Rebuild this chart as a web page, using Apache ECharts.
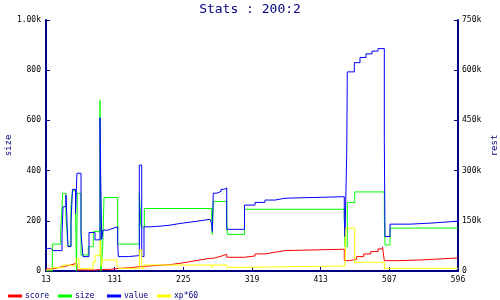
<!DOCTYPE html>
<html><head><meta charset="utf-8">
<script src="https://cdn.jsdelivr.net/npm/echarts@6/dist/echarts.min.js"></script>
<style>html,body{margin:0;padding:0;background:#fff}#c{width:500px;height:300px}</style>
</head><body><div id="c"></div>
<script>
var xLabels = ['13','131','225','319','413','507','596'];
var seriesNames = ['score','size','value','xp*60'];
// [x position along index axis (0..600), value]
var scoreData = [[0,6],[8.7,10],[17.5,14],[26.2,17],[35,21],[40.8,23],[45.1,3],[71.4,4],[78.6,5],[93.2,8],[107.8,10],[122.3,13],[136.9,15],[151.5,17],[166,19],[180.6,23],[195.1,28],[209.7,33],[224.3,38],[238.8,43],[241.7,38],[243.6,41],[249,45],[256.3,50],[263.2,41],[289.1,45],[304.4,51],[318.9,56],[333.5,61],[348,65],[434.4,31],[442.3,35],[452.5,43],[462.7,51],[472.9,58],[483.5,66],[490,72],[492.7,31],[515.5,33],[544.6,36],[573.8,39],[600,41]];
var sizeData = [[0,0],[9.2,107],[21.4,157],[24.3,309],[29.1,215],[32,100],[36.4,257],[38.6,320],[43,250],[44.4,0],[45.6,309],[51,64],[61.6,97],[68.9,157],[78.6,680],[80.1,0],[82.6,100],[84.5,293],[104.4,107],[135.9,310],[138.4,176],[143.2,249],[241.3,199],[242.2,146],[243.6,277],[263.2,214],[264,146],[289.1,246],[434.4,214],[435.4,97],[438.8,273],[449.6,315],[492.7,216],[493.7,104],[501,171],[600,171]];
var valueData = [[0,67.5],[7.3,72.8],[10.2,60.8],[23.3,107],[24.8,192],[29.1,227],[32,72.8],[36.4,147],[38.6,244],[43,172],[45.1,292],[51,112],[53.9,43],[62.6,115],[71.4,93],[78.6,458],[79.7,274],[81.1,94.5],[83,122],[90.3,127.5],[97.6,132],[104.4,85],[105.3,43],[119.9,46],[135.9,316.5],[139.4,43],[142.7,132],[151.5,134],[166,137],[180.6,142],[195.1,146],[209.7,150],[224.3,154.5],[238.8,157.5],[241.3,142.5],[242.2,118],[243.6,232.5],[249,238],[254.9,244],[259.2,248],[263.2,124.5],[289.1,197],[304.4,205],[318.9,212],[333.5,217.5],[348,222],[434.4,160.5],[435.4,103],[437.9,346.5],[438.8,595],[449,622.5],[457.3,638],[466.1,649],[474.8,657],[483.5,664.5],[492.7,386],[493.7,103],[501,140],[530.1,143],[559.2,146],[581,149],[600,149]];
var xpData = [[0,3],[8.7,10],[24.8,18],[30.6,15],[43.7,36],[48.1,8],[51,6],[68.4,25],[71.4,46],[78.6,91],[81.1,15],[82,33],[103,20],[105.3,8],[135.9,63],[139.4,8],[142.7,18],[241.3,11],[242.5,18],[263.2,11],[289.1,15],[435.4,13],[436.8,128],[449.6,26],[492.7,8],[600,8]];
var seriesColors = ['#ff0000','#00ff00','#0000ff','#ffff00'];

var navy = '#000080';
var mono = 'DejaVu Sans Mono';
function mkSeries(name, data, axis, color){
  return {name:name,type:'line',step:'end',data:data,yAxisIndex:axis,showSymbol:false,symbol:'none',
    lineStyle:{width:1,color:color},itemStyle:{color:color},animation:false};
}
var legendLefts = [3,53,102,152];
var chart = echarts.init(document.getElementById('c'));
chart.setOption({
  animation:false,
  title:{text:'Stats : 200:2',left:'center',top:-2,textStyle:{color:navy,fontFamily:mono,fontSize:13,fontWeight:'normal'}},
  legend: seriesNames.map(function(n,i){return {data:[n],left:legendLefts[i],top:287,itemWidth:14,itemHeight:3,icon:'rect',itemGap:0,
    textStyle:{color:navy,fontFamily:mono,fontSize:8,padding:[0,0,0,-2]},selectedMode:false};}),
  grid:{left:46,right:42,top:20,bottom:29,containLabel:false,outerBoundsMode:'none'},
  xAxis:{type:'value',min:0,max:600,interval:100,
    axisLine:{lineStyle:{color:navy,width:2}},
    axisTick:{inside:true,length:4,lineStyle:{color:navy}},
    splitLine:{show:false},
    axisLabel:{color:'#000',fontFamily:mono,fontSize:8,margin:5,formatter:function(v){return xLabels[Math.round(v/100)];}}},
  yAxis:[
    {type:'value',min:0,max:1000,interval:200,name:'size',nameLocation:'middle',nameRotate:90,nameGap:33,nameMoveOverlap:false,
      nameTextStyle:{color:navy,fontFamily:mono,fontSize:9},
      axisLine:{show:true,lineStyle:{color:navy,width:2}},
      axisTick:{show:true,inside:true,length:4,lineStyle:{color:navy}},
      splitLine:{show:false},
      axisLabel:{color:'#000',fontFamily:mono,fontSize:8,margin:5,formatter:function(v){return v===1000?'1.00k':String(v);}}},
    {type:'value',min:0,max:750,interval:150,name:'rest',nameLocation:'middle',nameRotate:90,nameGap:32,nameMoveOverlap:false,position:'right',
      nameTextStyle:{color:navy,fontFamily:mono,fontSize:9},
      axisLine:{show:true,lineStyle:{color:navy,width:2}},
      axisTick:{show:true,inside:true,length:4,lineStyle:{color:navy}},
      splitLine:{show:false},
      axisLabel:{color:'#000',fontFamily:mono,fontSize:8,margin:4,formatter:function(v){return v===0?'0':v+'k';}}}
  ],
  series:[
    mkSeries('score',scoreData,1,seriesColors[0]),
    mkSeries('size',sizeData,0,seriesColors[1]),
    mkSeries('value',valueData,1,seriesColors[2]),
    mkSeries('xp*60',xpData,1,seriesColors[3])
  ]
});
</script></body></html>
